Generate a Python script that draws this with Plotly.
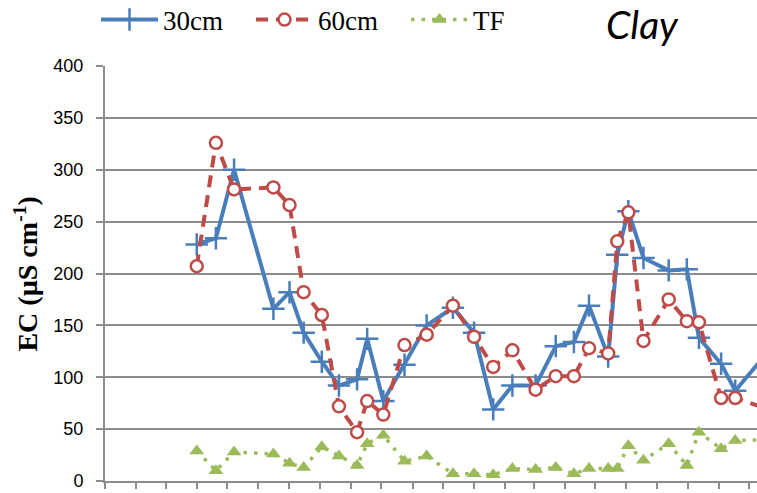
import plotly.graph_objects as go

# Sampling dates (shared by all three series)
dates = [
    "2008-04-01", "2008-04-20", "2008-05-08", "2008-06-16", "2008-07-02",
    "2008-07-16", "2008-08-03", "2008-08-20", "2008-09-07", "2008-09-17",
    "2008-10-03", "2008-10-24", "2008-11-15", "2008-12-11", "2009-01-01",
    "2009-01-20", "2009-02-08", "2009-03-03", "2009-03-23", "2009-04-10",
    "2009-04-25", "2009-05-14", "2009-05-23", "2009-06-03", "2009-06-18",
    "2009-07-13", "2009-07-31", "2009-08-12", "2009-09-03", "2009-09-17",
    "2009-10-26",
]

# Electrical conductivity (µS/cm)
ec_30cm = [228, 234, 300, 166, 182, 143, 115, 92, 98, 137, 77, 112, 150, 167, 143,
           69, 92, 92, 130, 134, 169, 120, 218, 260, 215, 203, 204, 138, 113, 87, 132]
ec_60cm = [207, 326, 281, 283, 266, 182, 160, 72, 47, 77, 64, 131, 141, 169, 139,
           110, 126, 88, 101, 101, 128, 123, 231, 259, 135, 175, 154, 153, 80, 80, 67]
ec_tf = [29, 10, 28, 26, 17, 13, 33, 24, 15, 36, 44, 19, 24, 7, 7,
         6, 12, 11, 13, 7, 12, 12, 12, 34, 20, 36, 15, 47, 31, 39, 40]

y_ticks = [0, 50, 100, 150, 200, 250, 300, 350, 400]

BLUE = "#4A7EBB"
RED = "#BE4B48"
GREEN = "#9BBB59"
GRID = "#8C8C8C"

W, H = 757, 493
ML, MT, MB = 104.5, 66, 12
PW, PH = W - ML, H - MT - MB


def px_to_paper(px, py):
    return (px - ML) / PW, (H - MB - py) / PH


fig = go.Figure()

fig.add_trace(go.Scatter(
    x=dates, y=ec_30cm, name="30cm", mode="lines+markers",
    line=dict(color=BLUE, width=4),
    marker=dict(symbol="cross-thin", size=16, line=dict(color=BLUE, width=2.5)),
))
fig.add_trace(go.Scatter(
    x=dates, y=ec_60cm, name="60cm", mode="lines+markers",
    line=dict(color=RED, width=4, dash="12px,8px"),
    marker=dict(symbol="circle", size=12, color="white", line=dict(color=RED, width=2.5)),
))
fig.add_trace(go.Scatter(
    x=dates, y=ec_tf, name="TF", mode="lines+markers",
    line=dict(color=GREEN, width=3.5, dash="3.5px,7px"),
    marker=dict(symbol="triangle-up", size=13, color=GREEN),
))

title_x, title_y = px_to_paper(25, 274)
clay_x, clay_y = px_to_paper(642, 0)

fig.update_layout(
    width=W, height=H,
    margin=dict(l=ML, r=0, t=MT, b=MB),
    paper_bgcolor="white", plot_bgcolor="white",
    showlegend=True,
    legend=dict(
        orientation="h", xref="container", yref="container",
        x=96 / W, y=1 - 20 / H, xanchor="left", yanchor="middle",
        font=dict(family="Liberation Serif", size=27, color="black"),
        itemwidth=57, entrywidth=83, bgcolor="rgba(0,0,0,0)",
    ),
    xaxis=dict(
        type="date",
        range=["2008-01-01", "2009-10-08 14:00"],
        tick0="2008-01-01", dtick="M1",
        ticks="outside", ticklen=6, tickwidth=1.5, tickcolor=GRID,
        showticklabels=False, showgrid=False, zeroline=False,
        showline=True, linecolor=GRID, linewidth=2,
    ),
    yaxis=dict(
        range=[0, 400], tickvals=y_ticks,
        ticks="outside", ticklen=7, tickwidth=1.5, tickcolor=GRID,
        showgrid=True, gridcolor=GRID, gridwidth=1.5,
        zeroline=False, showline=True, linecolor=GRID, linewidth=2,
        tickfont=dict(family="Liberation Sans", size=18, color="black"),
        ticklabelstandoff=9,
    ),
    annotations=[
        dict(
            text="EC (µS cm<sup>-1</sup>)", textangle=-90,
            xref="paper", yref="paper", x=title_x, y=title_y,
            xanchor="center", yanchor="middle", showarrow=False,
            font=dict(family="Liberation Serif", size=28, color="black", weight="bold"),
        ),
        dict(
            text="Clay", xref="paper", yref="paper",
            x=clay_x, y=clay_y, xanchor="center", yanchor="top",
            showarrow=False, borderpad=0,
            font=dict(family="Lato", size=39, color="black", style="italic"),
        ),
    ],
)

fig.write_html("out.html")
